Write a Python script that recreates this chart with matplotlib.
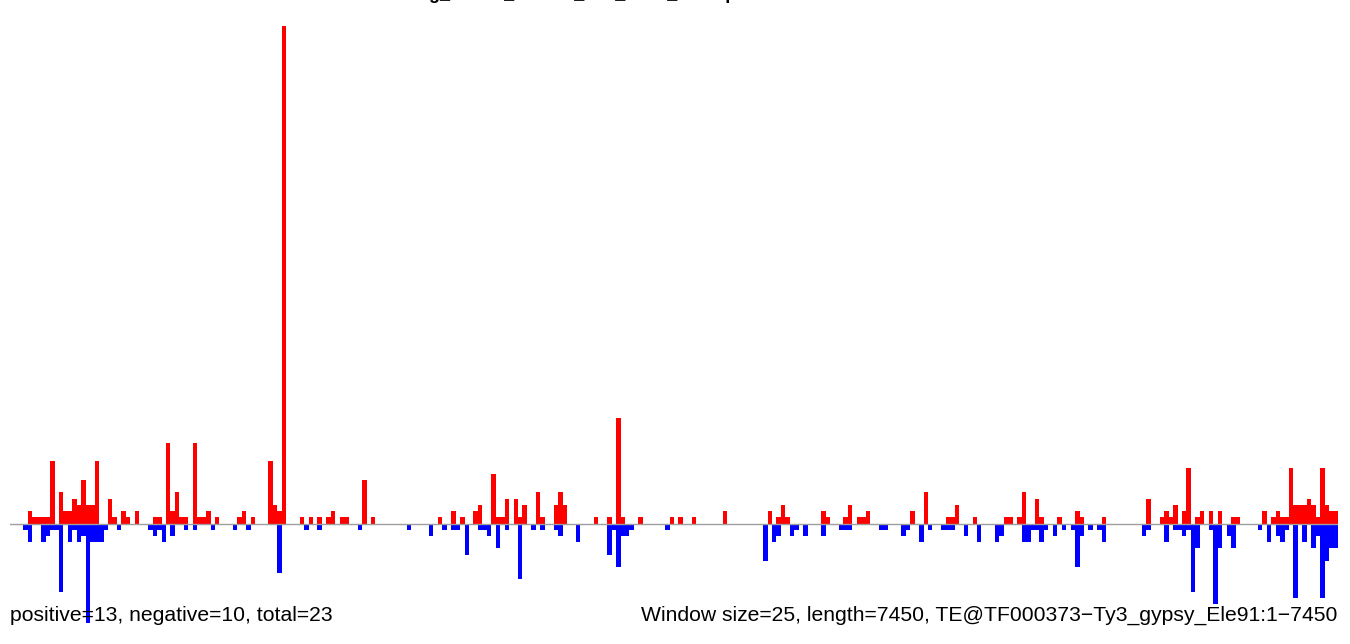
import matplotlib
matplotlib.use("Agg")
import matplotlib.pyplot as plt
import numpy as np

#--------------------- DATA -------------------#
# counts per 25 bp window (298 windows over 7450 bp)
positive_counts = [
    0, 0, 0, 0, 2, 1, 1, 1, 1, 10, 0, 5, 2, 2, 4, 3, 7, 3, 3, 10, 0, 0, 4, 1, 0,
    2, 1, 0, 2, 0, 0, 0, 1, 1, 0, 13, 2, 5, 1, 1, 0, 13, 1, 1, 2, 0, 1, 0, 0, 0,
    0, 1, 2, 0, 1, 0, 0, 0, 10, 3, 2, 80, 0, 0, 0, 1, 0, 1, 0, 1, 0, 1, 2, 0, 1,
    1, 0, 0, 0, 7, 0, 1, 0, 0, 0, 0, 0, 0, 0, 0, 0, 0, 0, 0, 0, 0, 1, 0, 0, 2,
    0, 1, 0, 0, 2, 3, 0, 0, 8, 1, 1, 4, 0, 4, 1, 3, 0, 0, 5, 1, 0, 0, 3, 5, 3,
    0, 0, 0, 0, 0, 0, 1, 0, 0, 1, 0, 17, 1, 0, 0, 0, 1, 0, 0, 0, 0, 0, 0, 1, 0,
    1, 0, 0, 1, 0, 0, 0, 0, 0, 0, 2, 0, 0, 0, 0, 0, 0, 0, 0, 0, 2, 0, 1, 3, 1,
    0, 0, 0, 0, 0, 0, 0, 2, 1, 0, 0, 0, 1, 3, 0, 1, 1, 2, 0, 0, 0, 0, 0, 0, 0,
    0, 0, 2, 0, 0, 5, 0, 0, 0, 0, 1, 1, 3, 0, 0, 0, 1, 0, 0, 0, 0, 0, 0, 1, 1,
    0, 1, 5, 0, 0, 4, 1, 0, 0, 0, 1, 0, 0, 0, 2, 1, 0, 0, 0, 0, 1, 0, 0, 0, 0,
    0, 0, 0, 0, 0, 4, 0, 0, 1, 2, 1, 3, 0, 2, 9, 0, 1, 2, 0, 2, 0, 2, 0, 0, 1,
    1, 0, 0, 0, 0, 0, 2, 0, 1, 2, 1, 1, 9, 3, 3, 3, 4, 3, 1, 9, 3, 2, 2,
]
negative_counts = [
    0, 0, 0, 1, 3, 0, 0, 3, 2, 1, 1, 11, 0, 3, 1, 3, 2, 16, 3, 3, 3, 1, 0, 0, 1,
    0, 0, 0, 0, 0, 0, 1, 2, 1, 3, 0, 2, 0, 0, 1, 0, 1, 0, 0, 0, 1, 0, 0, 0, 0,
    1, 0, 0, 1, 0, 0, 0, 0, 0, 0, 8, 0, 0, 0, 0, 0, 1, 0, 0, 1, 0, 0, 0, 0, 0,
    0, 0, 0, 1, 0, 0, 0, 0, 0, 0, 0, 0, 0, 0, 1, 0, 0, 0, 0, 2, 0, 0, 1, 0, 1,
    1, 0, 5, 0, 0, 1, 1, 2, 0, 4, 0, 1, 0, 0, 9, 0, 0, 1, 0, 1, 0, 0, 1, 2, 0,
    0, 0, 3, 0, 0, 0, 0, 0, 0, 5, 1, 7, 2, 2, 1, 0, 0, 0, 0, 0, 0, 0, 1, 0, 0,
    0, 0, 0, 0, 0, 0, 0, 0, 0, 0, 0, 0, 0, 0, 0, 0, 0, 0, 0, 6, 0, 3, 2, 0, 0,
    2, 1, 0, 2, 0, 0, 0, 2, 0, 0, 0, 1, 1, 1, 0, 0, 0, 0, 0, 0, 1, 1, 0, 0, 0,
    2, 1, 0, 0, 3, 0, 1, 0, 0, 1, 1, 1, 0, 0, 2, 0, 0, 3, 0, 0, 0, 3, 2, 0, 0,
    0, 0, 3, 3, 1, 1, 3, 1, 0, 2, 0, 1, 0, 1, 7, 2, 0, 1, 0, 1, 3, 0, 0, 0, 0,
    0, 0, 0, 0, 2, 1, 0, 0, 0, 3, 0, 1, 1, 2, 1, 11, 4, 0, 0, 1, 13, 4, 0, 2, 4,
    0, 0, 0, 0, 0, 1, 0, 3, 0, 2, 3, 1, 0, 12, 0, 3, 0, 4, 2, 12, 6, 4, 4,
]

title_text = "Log_siRNA_mature_raw_dens_readsprofile"
left_label = "positive=13, negative=10, total=23"
right_label = "Window size=25, length=7450, TE@TF000373\u2212Ty3_gypsy_Ele91:1\u22127450"

#--------------------- PLOT -------------------#
plt.rcParams['font.family'] = ['Liberation Sans', 'DejaVu Sans']

W, H = 1350, 644
fig = plt.figure(figsize=(W / 100, H / 100), dpi=100)
ax = fig.add_axes([10 / W, 0, 1328 / W, 1])

x = np.arange(len(positive_counts))
pos = np.array(positive_counts)
neg = -np.array(negative_counts)

ax.bar(x, pos, width=1, align='edge', color='#ff0000', linewidth=0)
ax.bar(x, neg, width=1, align='edge', color='#0000ff', linewidth=0)
ax.axhline(0, color='#9e9e9e', lw=1.0, zorder=3)

unit = 6.22  # pixels per count
ax.set_xlim(0, len(positive_counts))
ax.set_ylim(-(H - 523.5) / unit, 523.5 / unit)
ax.axis('off')

# title sits mostly above the canvas, only descenders show
fig.text(408 / W, 1.001, title_text, fontsize=13, fontweight='bold',
         ha='left', va='baseline')

fig.text(10 / W, 1 - 621 / H, left_label, fontsize=15.2, ha='left', va='baseline')
fig.text(1337 / W, 1 - 621 / H, right_label, fontsize=15.2, ha='right', va='baseline')

fig.savefig("out.png", dpi=100)
